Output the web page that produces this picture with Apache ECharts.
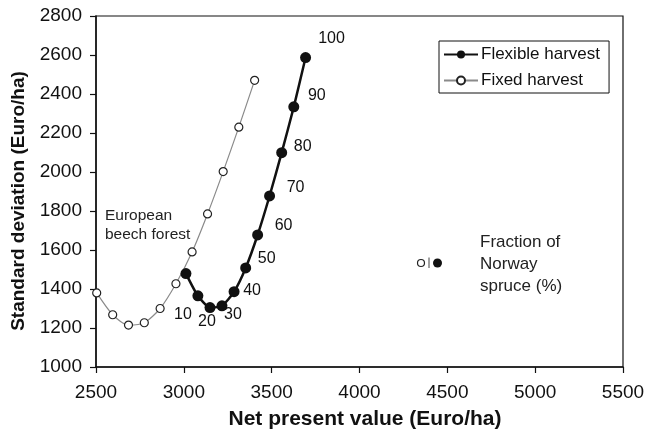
<!DOCTYPE html>
<html>
<head>
<meta charset="utf-8">
<script src="https://cdn.jsdelivr.net/npm/echarts@6/dist/echarts.min.js"></script>
<style>
html,body{margin:0;padding:0;background:#fff;}
#chart{width:649px;height:435px;}
</style>
</head>
<body>
<div id="chart"></div>
<script>
// Data (NPV in Euro/ha, standard deviation in Euro/ha), fraction of Norway spruce 0..100 %
const fractions = [0, 10, 20, 30, 40, 50, 60, 70, 80, 90, 100];
const flexibleNPV = [3012, 3080, 3149, 3217, 3286, 3352, 3420, 3488, 3557, 3626, 3693];
const flexibleSD  = [1479, 1365, 1305, 1314, 1386, 1508, 1677, 1877, 2099, 2334, 2587];
const fixedNPV = [2504, 2595, 2685, 2775, 2865, 2955, 3047, 3135, 3224, 3313, 3403];
const fixedSD  = [1380, 1268, 1215, 1227, 1300, 1427, 1590, 1785, 2002, 2230, 2470];
const xTicks = [2500, 3000, 3500, 4000, 4500, 5000, 5500];
const yTicks = [1000, 1200, 1400, 1600, 1800, 2000, 2200, 2400, 2600, 2800];

// label offsets (styling only) for the fraction labels on the flexible curve
const labelOffsets = [null, [-15, 19], [-3, 14], [11, 9], [18, -1], [21, -9], [26, -9], [26, -8], [21, -6], [23, -11], [26, -19]];

const font = 'Liberation Sans, Arial, sans-serif';
const flexData = flexibleNPV.map((x, i) => {
  const item = { value: [x, flexibleSD[i]] };
  if (i > 0) {
    item.label = {
      show: true, position: 'inside', offset: labelOffsets[i],
      formatter: String(fractions[i]), color: '#111', fontSize: 16,
      fontFamily: font
    };
  }
  return item;
});
const fixData = fixedNPV.map((x, i) => [x, fixedSD[i]]);

const chart = echarts.init(document.getElementById('chart'), null, { renderer: 'canvas' });
chart.setOption({
  animation: false,
  backgroundColor: '#fff',
  grid: { left: 96, right: 26, top: 16, bottom: 68, show: true, borderColor: '#111', borderWidth: 1.2, containLabel: false },
  xAxis: {
    type: 'value', min: xTicks[0], max: xTicks[xTicks.length - 1], interval: 500,
    name: 'Net present value (Euro/ha)', nameLocation: 'middle', nameGap: 42,
    nameTextStyle: { fontSize: 21, fontWeight: 'bold', color: '#111', fontFamily: font, padding: [0, 0, 0, 11] },
    axisLine: { show: true, lineStyle: { color: '#111', width: 1.5 } },
    axisTick: { show: true, inside: false, length: 6, lineStyle: { color: '#111', width: 1.2 } },
    axisLabel: { fontSize: 19, color: '#111', fontFamily: font, margin: 16, formatter: v => String(v) },
    splitLine: { show: false }
  },
  yAxis: {
    type: 'value', min: yTicks[0], max: yTicks[yTicks.length - 1], interval: 200,
    axisLine: { show: true, lineStyle: { color: '#111', width: 1.5 } },
    axisTick: { show: true, inside: false, length: 6, lineStyle: { color: '#111', width: 1.2 } },
    axisLabel: { fontSize: 19, color: '#111', fontFamily: font, margin: 14, formatter: v => String(v) },
    splitLine: { show: false }
  },
  legend: {
    left: 439, top: 41, orient: 'vertical',
    backgroundColor: '#fff', borderColor: '#111', borderWidth: 1,
    padding: [5, 9, 4, 4], itemGap: 9, itemWidth: 34, itemHeight: 10,
    textStyle: { fontSize: 17, color: '#111', fontFamily: font, padding: [0, 0, 0, -2] },
    data: ['Flexible harvest', 'Fixed harvest']
  },
  series: [
    {
      name: 'Fixed harvest', type: 'line', data: fixData, smooth: 0.25,
      symbol: 'circle', symbolSize: 8,
      lineStyle: { color: '#8a8a8a', width: 1.2 },
      itemStyle: { color: '#fff', borderColor: '#222', borderWidth: 1.2 },
      z: 2
    },
    {
      name: 'Flexible harvest', type: 'line', data: flexData, smooth: 0.2,
      symbol: 'circle', symbolSize: 11,
      lineStyle: { color: '#111', width: 2.5 },
      itemStyle: { color: '#111', borderColor: '#111', borderWidth: 0 },
      z: 3
    }
  ],
  graphic: [
    { type: 'text', x: 19, y: 201, rotation: Math.PI / 2,
      style: { text: 'Standard deviation (Euro/ha)', fill: '#111', font: 'bold 19px ' + font, align: 'center', verticalAlign: 'middle' } },
    { type: 'text', left: 105, top: 206, style: { text: 'European\nbeech forest', fontSize: 15.5, lineHeight: 19, fill: '#222', font: '15.5px ' + font } },
    { type: 'text', left: 480, top: 231, style: { text: 'Fraction of\nNorway\nspruce (%)', fontSize: 17, lineHeight: 22, fill: '#222', font: '17px ' + font } },
    { type: 'circle', shape: { cx: 421, cy: 263, r: 3.5 }, style: { fill: '#fff', stroke: '#222', lineWidth: 1.2 } },
    { type: 'line', shape: { x1: 429, y1: 257.5, x2: 429, y2: 268 }, style: { stroke: '#444', lineWidth: 1 } },
    { type: 'circle', shape: { cx: 437.5, cy: 263, r: 4.5 }, style: { fill: '#111' } }
  ]
});
</script>
</body>
</html>
